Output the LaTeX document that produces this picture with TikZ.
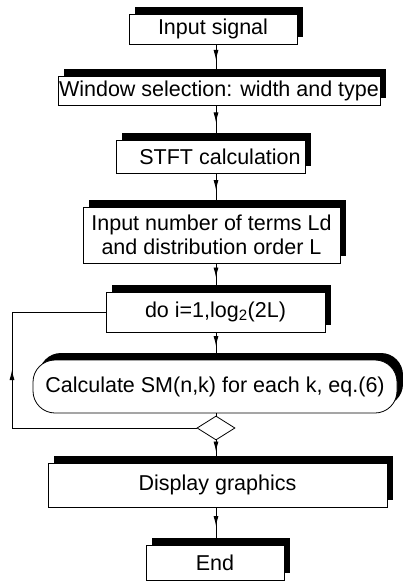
\documentclass[tikz,border=0pt]{standalone}
\usepackage{fontspec}
\setmainfont{Liberation Sans}
\usepackage{tikz}
\usetikzlibrary{shapes.geometric,shadows,decorations.markings,arrows.meta}
\tikzstyle{process}=[shape=rectangle,draw=black,fill=white,line width=0.8pt,inner sep=0pt,drop shadow={shadow xshift=6pt,shadow yshift=7pt,fill=black,opacity=1},font=\fontsize{21.5}{24}\selectfont]
\tikzstyle{calcbox}=[process,rounded corners=22pt]
\tikzstyle{check}=[shape=diamond,draw=black,fill=white,line width=0.8pt,inner sep=0pt,minimum width=38pt,minimum height=24pt]
\tikzstyle{flowedge}=[line width=0.8pt,postaction={decorate},decoration={markings,mark=at position 0.5 with {\arrow{Latex[length=10pt,width=5pt]}}}]
\tikzstyle{loopedge}=[line width=0.8pt]

\begin{document}
\begin{tikzpicture}[x=1pt,y=-1pt]
		\useasboundingbox (0,0) rectangle (403,583);
		\coordinate (spine) at (216,0);
		\coordinate (loopleft) at (12,0);

		% steps
		\node[process,minimum width=168pt,minimum height=30pt] (signal) at (213,29) {Input signal};
		\node[process,minimum width=322pt,minimum height=29pt] (window) at (219,90.5) {Window selection: width and type};
		\node[process,minimum width=189pt,minimum height=33pt] (stft) at (210.5,156.5) {\hspace*{19pt}STFT calculation};
		\node[process,minimum width=257pt,minimum height=56pt,align=center] (terms) at (211.5,235) {Input number of terms Ld\\and distribution order L};
		\node[process,minimum width=219pt,minimum height=40pt] (doloop) at (215.5,312) {do i=1,log\textsubscript{2}(2L)};
		\node[calcbox,minimum width=364pt,minimum height=53pt] (spectra) at (215,386.5) {Calculate SM(n,k) for each k, eq.(6)};
		\node[check] (enddo) at (216,428) {};
		\node[process,minimum width=339pt,minimum height=44pt] (display) at (217.5,485) {Display graphics};
		\node[process,minimum width=138pt,minimum height=35pt] (stop) at (215,562.5) {End};

		% flow
		\draw[flowedge] (signal.south -| spine) -- (window.north -| spine);
		\draw[flowedge] (window.south -| spine) -- (stft.north -| spine);
		\draw[flowedge] (stft.south -| spine) -- (terms.north -| spine);
		\draw[flowedge] (terms.south -| spine) -- (doloop.north -| spine);
		\draw[flowedge] (doloop.south -| spine) -- (spectra.north -| spine);
		\draw[loopedge] (spectra.south -| spine) -- (enddo.north);
		\draw[flowedge] (enddo.south) -- (display.north -| spine);
		\draw[flowedge] (display.south -| spine) -- (stop.north -| spine);

		% loop back
		\draw[loopedge] (enddo.west) -- (enddo.west -| loopleft);
		\draw[flowedge] (enddo.west -| loopleft) -- (doloop.west -| loopleft);
		\draw[loopedge] (doloop.west -| loopleft) -- (doloop.west);

\end{tikzpicture}
\end{document}
